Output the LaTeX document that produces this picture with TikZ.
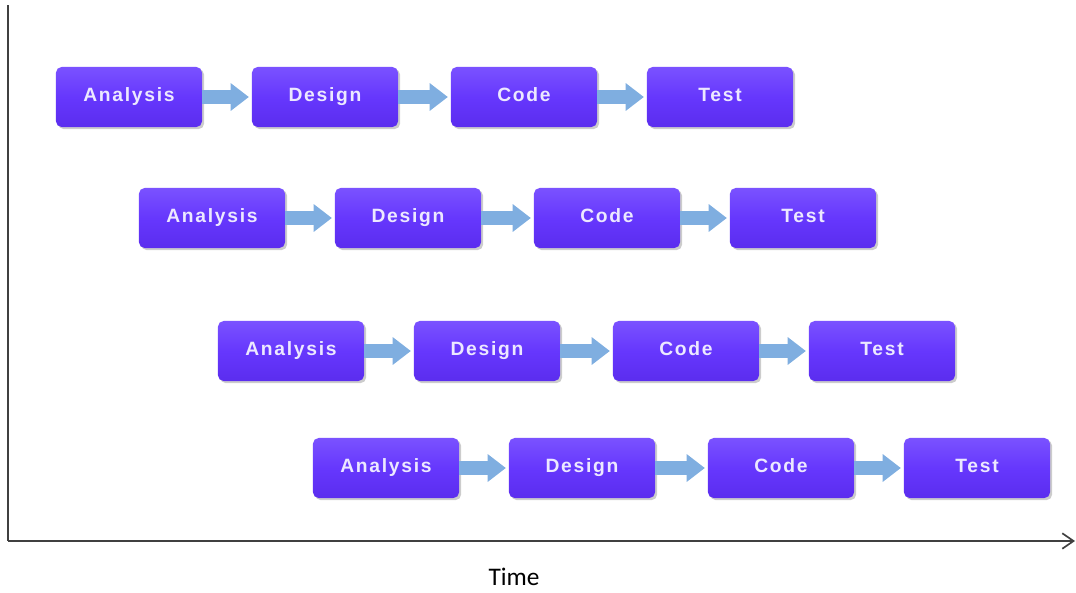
\documentclass[tikz,border=0pt]{standalone}
\usepackage{fontspec}
\setmainfont{Liberation Sans}
\newfontfamily\phasefont[LetterSpace=9]{Liberation Sans}
\newfontfamily\timefont{Carlito}
\usetikzlibrary{arrows.meta,shadows}
\definecolor{phasetop}{HTML}{7A52FF}
\definecolor{phasemid}{HTML}{6637FD}
\definecolor{phasebot}{HTML}{5B2DEE}
\definecolor{phasetext}{HTML}{ECE8FF}
\definecolor{flowblue}{HTML}{7FAEE0}
\definecolor{axisgray}{HTML}{404040}

\begin{document}
\begin{tikzpicture}[x=0.025cm, y=-0.025cm,
    phase/.style={rounded corners=4pt, minimum width=3.65cm, minimum height=1.5cm, inner sep=0pt,
        top color=phasetop, bottom color=phasebot, middle color=phasemid,
        drop shadow={shadow xshift=1.5pt, shadow yshift=-1.5pt, opacity=0.4},
        text height=10pt, text depth=3pt,
        text=phasetext, font=\phasefont\bfseries\fontsize{13.7}{16}\selectfont},
    flow/.style={draw=flowblue, line width=10pt, shorten >=2pt,
        -{Triangle[width=19pt, length=13pt]}},
    axis/.style={draw=axisgray, line width=1.2pt}]
    \useasboundingbox (0,0) rectangle (1076,592);

    % time axis
    \coordinate (top) at (8,5);
    \coordinate (origin) at (8,541);
    \coordinate (tend) at (1075,541);
    \draw[axis] (top) -- (origin);
    \draw[axis, -{Straight Barb[length=8pt, width=11pt]}] (origin) -- (tend);
    \node[font=\timefont\fontsize{18}{20}\selectfont] (time) at (514,577) {Time};

    % one row per iteration
    \foreach \r/\x/\y in {1/129/97, 2/212/218, 3/291/351, 4/386/468}
    {
        \node[phase] (ana\r) at (\x,\y) {Analysis};
        \node[phase] (des\r) at (\x+196,\y) {Design};
        \node[phase] (cod\r) at (\x+395,\y) {Code};
        \node[phase] (tst\r) at (\x+591,\y) {Test};
        \draw[flow] (ana\r) -- (des\r);
        \draw[flow] (des\r) -- (cod\r);
        \draw[flow] (cod\r) -- (tst\r);
    }
\end{tikzpicture}
\end{document}
